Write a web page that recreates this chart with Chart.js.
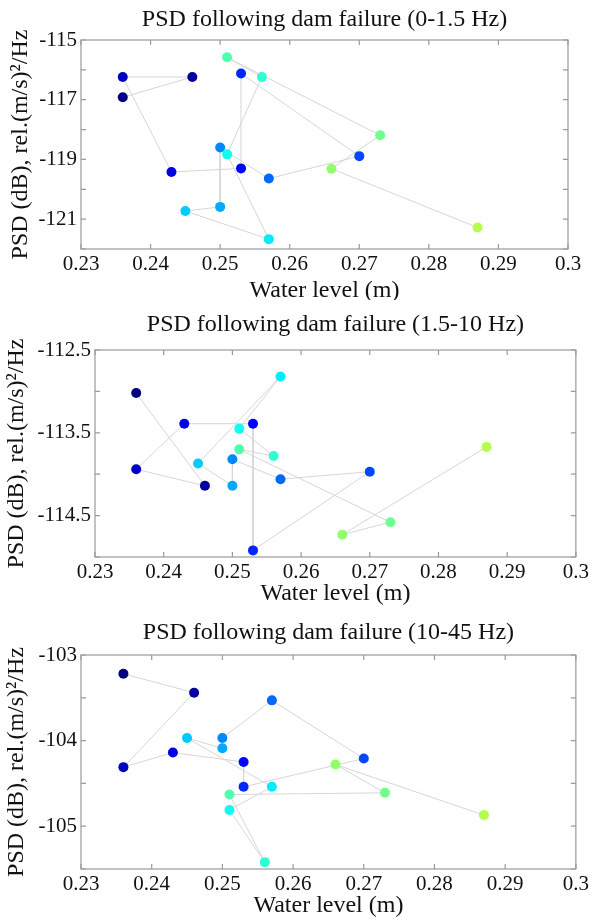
<!DOCTYPE html>
<html>
<head>
<meta charset="utf-8">
<script src="https://cdn.jsdelivr.net/npm/chart.js@4.4.0/dist/chart.umd.min.js"></script>
<style>
  body { margin: 0; background: #fff; }
  canvas { position: absolute; left: 0; }
</style>
</head>
<body>
<canvas id="lowChart" width="592" height="300" style="top:0px"></canvas>
<canvas id="midChart" width="592" height="310" style="top:300px"></canvas>
<canvas id="highChart" width="592" height="312" style="top:610px"></canvas>
<script>
// water level for each measurement, in time order (same for all three bands)
const waterLevel = [0.236, 0.246, 0.236, 0.243, 0.253, 0.253, 0.270, 0.257, 0.250,
                    0.250, 0.245, 0.257, 0.251, 0.256, 0.251, 0.273, 0.266, 0.287];

// PSD values (dB) per band
const psdLow = [-116.92, -116.24, -116.24, -119.42, -119.30, -116.12, -118.89, -119.64, -118.60,
                -120.59, -120.73, -121.67, -118.83, -116.24, -115.58, -118.19, -119.31, -121.28];
const psdMid = [-113.02, -114.14, -113.94, -113.39, -113.39, -114.92, -113.97, -114.06, -113.82,
                -114.14, -113.87, -112.82, -113.45, -113.78, -113.70, -114.58, -114.73, -113.67];
const psdHigh = [-103.22, -103.44, -104.31, -104.14, -104.25, -104.54, -104.21, -103.53, -103.97,
                 -104.09, -103.97, -104.54, -104.81, -105.42, -104.63, -104.61, -104.28, -104.87];

// tick labels
const xTickLabels = ['0.23', '0.24', '0.25', '0.26', '0.27', '0.28', '0.29', '0.3'];
const lowTickLabels = [-115, -117, -119, -121];
const midTickLabels = [-112.5, -113.5, -114.5];
const highTickLabels = [-103, -104, -105];

const serif = '"Liberation Serif", "Times New Roman", serif';

// jet colormap, colour runs with time
function jet(t) {
  const c = v => Math.max(0, Math.min(1, v));
  const r = c(1.5 - Math.abs(4 * t - 3));
  const g = c(1.5 - Math.abs(4 * t - 2));
  const b = c(1.5 - Math.abs(4 * t - 1));
  return 'rgb(' + Math.round(r * 255) + ',' + Math.round(g * 255) + ',' + Math.round(b * 255) + ')';
}
const pointColors = waterLevel.map((_, i) => jet(i / (waterLevel.length - 1) * 0.55));

// matlab-ish box with inward ticks + title centred over the plot
const boxPlugin = {
  id: 'box',
  beforeDatasetsDraw(chart) {
    const {ctx, chartArea: a, scales: {x, y}} = chart;
    ctx.save();
    ctx.strokeStyle = '#9a9a9a';
    ctx.lineWidth = 1.2;
    ctx.strokeRect(a.left, a.top, a.right - a.left, a.bottom - a.top);
    ctx.beginPath();
    x.ticks.forEach(t => {
      const px = x.getPixelForValue(t.value);
      ctx.moveTo(px, a.bottom); ctx.lineTo(px, a.bottom - 5);
      ctx.moveTo(px, a.top); ctx.lineTo(px, a.top + 5);
    });
    y.ticks.forEach(t => {
      const py = y.getPixelForValue(t.value);
      ctx.moveTo(a.left, py); ctx.lineTo(a.left + 5, py);
      ctx.moveTo(a.right, py); ctx.lineTo(a.right - 5, py);
    });
    ctx.stroke();
    ctx.restore();
  },
  afterDraw(chart, args, opts) {
    const {ctx, chartArea: a} = chart;
    ctx.save();
    ctx.font = '24px ' + serif;
    ctx.fillStyle = '#111';
    ctx.textAlign = 'center';
    ctx.textBaseline = 'middle';
    ctx.fillText(opts.text, (a.left + a.right) / 2, opts.y);
    ctx.restore();
  }
};

function makePanel(id, psd, cfg) {
  const ctx = document.getElementById(id).getContext('2d');
  return new Chart(ctx, {
    type: 'scatter',
    data: {
      datasets: [{
        data: waterLevel.map((w, i) => ({x: w, y: psd[i]})),
        showLine: true,
        borderColor: '#d6d6d6',
        borderWidth: 1,
        pointRadius: 5,
        pointBorderWidth: 0,
        pointBackgroundColor: pointColors,
        pointBorderColor: pointColors
      }]
    },
    options: {
      responsive: false,
      animation: false,
      layout: {padding: {top: cfg.top, right: cfg.right, left: 0, bottom: 0}},
      plugins: {
        legend: {display: false},
        tooltip: {enabled: false},
        box: {text: cfg.title, y: cfg.titleY}
      },
      scales: {
        x: {
          type: 'linear',
          min: 0.23, max: 0.3,
          afterFit: s => { s.height = cfg.xHeight; },
          grid: {display: false, drawTicks: false},
          border: {display: false},
          ticks: {
            stepSize: 0.01, autoSkip: false, maxRotation: 0, padding: 3,
            color: '#111',
            font: {family: serif, size: 21},
            callback: v => {
              const i = Math.round((v - 0.23) / 0.01);
              return xTickLabels[i];
            }
          },
          title: {
            display: true, text: 'Water level (m)', color: '#111',
            font: {family: serif, size: 24, lineHeight: 0.8},
            padding: {top: 0, bottom: cfg.xTitlePad}
          }
        },
        y: {
          type: 'linear',
          min: cfg.yMin, max: cfg.yMax,
          afterFit: s => { s.width = cfg.yWidth; },
          grid: {display: false, drawTicks: false},
          border: {display: false},
          ticks: {
            stepSize: cfg.yStep, autoSkip: false, padding: 4,
            color: '#111',
            font: {family: serif, size: 21},
            callback: v => cfg.labels.some(l => Math.abs(l - v) < 1e-6) ? String(v) : ''
          },
          title: {
            display: true, text: 'PSD (dB), rel.(m/s)\u00B2/Hz', color: '#111',
            font: {family: serif, size: 24, lineHeight: 1},
            padding: {top: cfg.yTitlePad, bottom: 0}
          }
        }
      }
    },
    plugins: [boxPlugin]
  });
}

makePanel('lowChart', psdLow, {
  title: 'PSD following dam failure (0-1.5 Hz)', titleY: 20,
  top: 40, right: 24, xHeight: 51, yWidth: 81, xTitlePad: 0, yTitlePad: 9,
  yMin: -122, yMax: -115, yStep: 1, labels: lowTickLabels
});
makePanel('midChart', psdMid, {
  title: 'PSD following dam failure (1.5-10 Hz)', titleY: 25,
  top: 50, right: 15, xHeight: 53, yWidth: 95, xTitlePad: 7, yTitlePad: 5,
  yMin: -115, yMax: -112.5, yStep: 0.5, labels: midTickLabels
});
makePanel('highChart', psdHigh, {
  title: 'PSD following dam failure (10-45 Hz)', titleY: 23,
  top: 45, right: 12, xHeight: 53, yWidth: 81, xTitlePad: 7, yTitlePad: 5,
  yMin: -105.5, yMax: -103, yStep: 0.5, labels: highTickLabels
});
</script>
</body>
</html>
